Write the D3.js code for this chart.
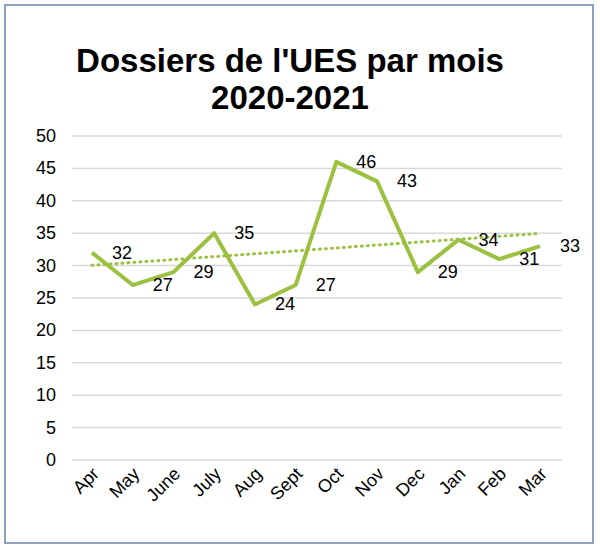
<!DOCTYPE html>
<html><head><meta charset="utf-8">
<script src="https://cdn.jsdelivr.net/npm/d3@7"></script>
<style>body{margin:0;background:#fff}text{font-family:"Liberation Sans",Arial,sans-serif}</style>
</head><body><svg id="c" width="600" height="550"></svg>
<script>
const months = ["Apr","May","June","July","Aug","Sept","Oct","Nov","Dec","Jan","Feb","Mar"];
const values = [32,27,29,35,24,27,46,43,29,34,31,33];
const yTicks = [0,5,10,15,20,25,30,35,40,45,50];
const titleLines = ["Dossiers de l'UES par mois","2020-2021"];
const color = "#9cc03f";

const svg = d3.select("#c");
svg.append("rect").attr("x",5).attr("y",5).attr("width",588).attr("height",538)
  .attr("fill","#fff").attr("stroke","#8ea2bf").attr("stroke-width",2);
svg.selectAll(".t").data(titleLines).enter().append("text")
  .attr("x",290).attr("y",(d,i)=>72+i*37).attr("text-anchor","middle")
  .attr("font-size",33).attr("font-weight","bold").text(d=>d);

const x = d3.scalePoint().domain(months).range([92,540]);
const y = d3.scaleLinear().domain([0,50]).range([460,136]);

svg.append("g").selectAll("line").data(yTicks).enter().append("line")
  .attr("x1",72).attr("x2",562).attr("y1",d=>y(d)).attr("y2",d=>y(d))
  .attr("stroke","#d9d9d9").attr("stroke-width",1.5);
svg.append("g").selectAll("text").data(yTicks).enter().append("text")
  .attr("x",56).attr("y",d=>y(d)+6).attr("text-anchor","end").attr("font-size",18).text(d=>d);
svg.append("g").selectAll("text").data(months).enter().append("text")
  .attr("transform",d=>`translate(${x(d)+8},${475}) rotate(-45)`)
  .attr("text-anchor","end").attr("font-size",18).text(d=>d);

// linear trend from data
const n=values.length, mx=(n-1)/2, my=d3.mean(values);
let sxy=0,sxx=0; values.forEach((v,i)=>{sxy+=(i-mx)*(v-my);sxx+=(i-mx)**2;});
const b=sxy/sxx, a=my-b*mx;
svg.append("line").attr("x1",x(months[0])).attr("x2",x(months[n-1]))
  .attr("y1",y(a)).attr("y2",y(a+b*(n-1)))
  .attr("stroke",color).attr("stroke-width",3).attr("stroke-dasharray","1,5").attr("stroke-linecap","round");

svg.append("path").datum(values)
  .attr("d",d3.line().x((d,i)=>x(months[i])).y(d=>y(d)))
  .attr("fill","none").attr("stroke",color).attr("stroke-width",4).attr("stroke-linejoin","round");

svg.append("g").selectAll("text").data(values).enter().append("text")
  .attr("x",(d,i)=>x(months[i])+20).attr("y",d=>y(d)+6).attr("font-size",18).text(d=>d);
</script></body></html>
